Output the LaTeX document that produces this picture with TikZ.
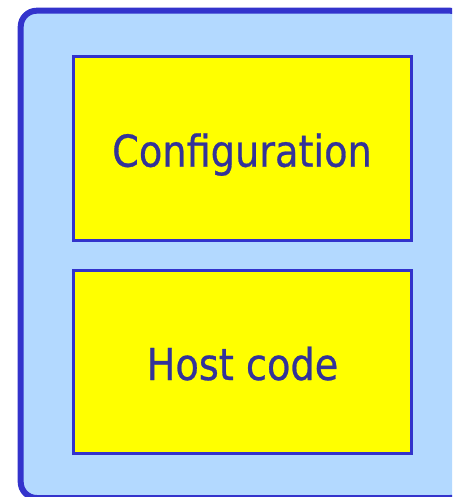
\documentclass[tikz,border=0pt]{standalone}
\usepackage{fontspec}
\setmainfont[FakeStretch=0.87,FakeBold=0.6]{DejaVu Sans}
\definecolor{panelfill}{RGB}{179,217,255}
\definecolor{panelline}{RGB}{51,51,204}
\definecolor{boxfill}{RGB}{255,255,0}
\definecolor{boxline}{RGB}{51,51,204}
\definecolor{labeltext}{RGB}{51,51,153}
\tikzset{
  panel/.style={draw=panelline, fill=panelfill, line width=6pt, rounded corners=16pt},
  block/.style={draw=boxline, fill=boxfill, line width=3pt},
  blocklabel/.style={text=labeltext, anchor=base, inner sep=0pt,
    font=\fontsize{44pt}{50pt}\selectfont}
}
\begin{document}
\begin{tikzpicture}[x=1pt,y=-1pt]
  \path[use as bounding box] (0,0) rectangle (452,497);
  \begin{scope}
    \clip (0,0) rectangle (452,497);
    % outer container, running past the right and lower edges
    \draw[panel] (20.7,10.7) rectangle (466,498);
  \end{scope}
  % inner blocks
  \draw[block] (73.5,56.5) rectangle (411.5,240);
  \draw[block] (73.5,270) rectangle (411.5,453);
  % labels
  \node[blocklabel] (cfg) at (242,166.7) {Configuration};
  \node[blocklabel] (host) at (242.5,380) {Host code};
\end{tikzpicture}
\end{document}
